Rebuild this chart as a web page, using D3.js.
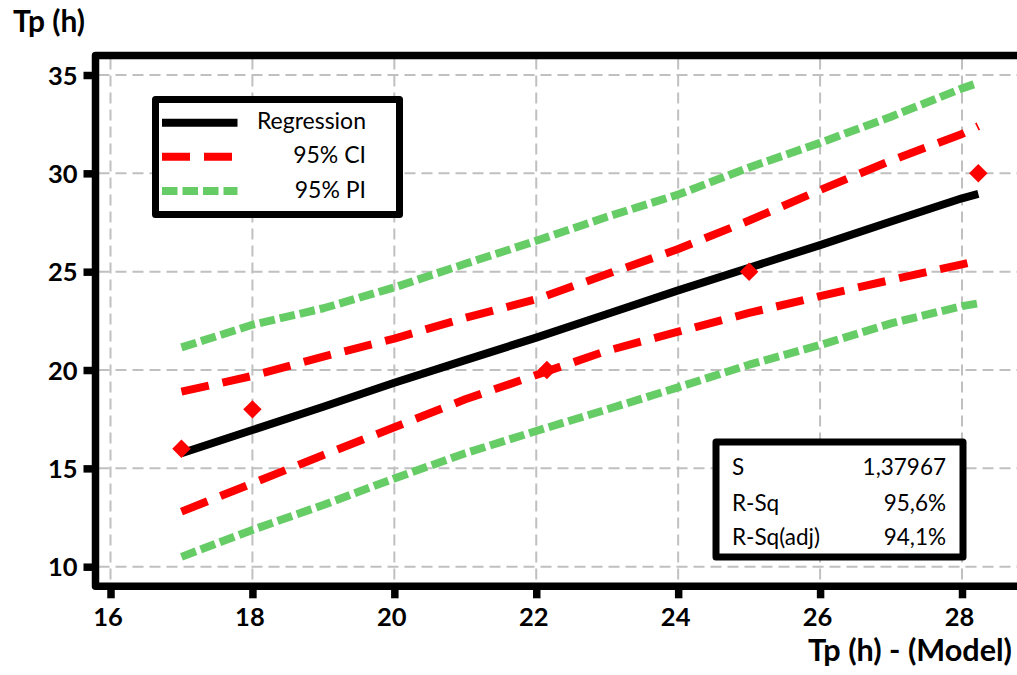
<!DOCTYPE html>
<html>
<head>
<meta charset="utf-8">
<script src="https://cdn.jsdelivr.net/npm/d3@7"></script>
<style>
  html, body { margin: 0; padding: 0; background: #fff; }
  svg { display: block; }
  text { font-family: Lato, "Open Sans", sans-serif; fill: #000; }
</style>
</head>
<body>
<svg id="chart" width="1017" height="675"></svg>
<script>
// ---- data ----
const xTicks = [16, 18, 20, 22, 24, 26, 28];
const yTicks = [10, 15, 20, 25, 30, 35];

const fitX       = [17, 18, 19, 20, 21, 22, 23, 24, 25, 26, 27, 28, 28.23];
const regression = [15.77, 16.95, 18.13, 19.35, 20.5, 21.65, 22.85, 24.05, 25.2, 26.35, 27.55, 28.73, 28.95];
const ciUpper    = [18.9, 19.7, 20.68, 21.6, 22.65, 23.6, 24.88, 26.15, 27.6, 29.15, 30.65, 32.0, 32.4];
const ciLower    = [12.8, 14.24, 15.68, 17.09, 18.51, 19.75, 20.98, 21.95, 22.9, 23.76, 24.58, 25.37, 25.56];
const piUpper    = [21.15, 22.3, 23.14, 24.2, 25.4, 26.57, 27.79, 28.92, 30.3, 31.55, 32.88, 34.32, 34.6];
const piLower    = [10.5, 11.87, 13.14, 14.49, 15.77, 16.9, 18.0, 19.12, 20.27, 21.27, 22.37, 23.25, 23.39];

const obsX = [17, 18, 22.15, 25, 28.23];
const obsY = [16, 18, 20, 25, 30];

const legendLabels = ["Regression", "95% CI", "95% PI"];
const statLabels = ["S", "R-Sq", "R-Sq(adj)"];
const statValues = ["1,37967", "95,6%", "94,1%"];

const xTitle = "Tp (h) - (Model)";
const yTitle = "Tp (h)";

// ---- styles ----
const RED = "#ff0000", GREEN = "#66cc66", GRID = "#c0c0c0";
const styles = [
  { color: "#000", dash: null, width: 8 },
  { color: RED, dash: "28,14", width: 8 },
  { color: GREEN, dash: "15.5,5", width: 8 }
];

const svg = d3.select("#chart");
const x = d3.scaleLinear().domain([16, 28]).range([110.5, 962]);
const y = d3.scaleLinear().domain([10, 35]).range([566.7, 75]);

const frame = { left: 95.5, top: 55.5, bottom: 586.3, right: 1030 };

// grid
const grid = svg.append("g");
grid.selectAll("line.v").data(xTicks).join("line")
  .attr("x1", d => x(d)).attr("x2", d => x(d))
  .attr("y1", frame.top + 3).attr("y2", frame.bottom - 3)
  .attr("stroke", GRID).attr("stroke-width", 2).attr("stroke-dasharray", "11,6");
grid.selectAll("line.h").data(yTicks).join("line")
  .attr("y1", d => y(d)).attr("y2", d => y(d))
  .attr("x1", frame.left + 3).attr("x2", 1017)
  .attr("stroke", GRID).attr("stroke-width", 2).attr("stroke-dasharray", "11,6");

// lines
const line = d3.line().x(d => x(d[0])).y(d => y(d[1]));
function series(vals, st) {
  svg.append("path")
    .datum(fitX.map((v, i) => [v, vals[i]]))
    .attr("d", line).attr("fill", "none")
    .attr("stroke", st.color).attr("stroke-width", st.width)
    .attr("stroke-linejoin", "round")
    .attr("stroke-dasharray", st.dash);
}
series(piUpper, styles[2]);
series(piLower, styles[2]);
series(ciUpper, styles[1]);
series(ciLower, styles[1]);
series(regression, styles[0]);

// observed points (red diamonds)
svg.append("g").selectAll("path").data(obsX.map((v, i) => [v, obsY[i]])).join("path")
  .attr("d", d3.symbol(d3.symbolSquare, 170))
  .attr("transform", d => `translate(${x(d[0])},${y(d[1])}) rotate(45)`)
  .attr("fill", RED);

// legend box
const lg = svg.append("g");
lg.append("rect").attr("x", 155.5).attr("y", 99.5).attr("width", 244).attr("height", 115)
  .attr("fill", "#fff").attr("stroke", "#000").attr("stroke-width", 7).attr("stroke-linejoin", "round");
const legY = [122.7, 156.7, 191];
legendLabels.forEach((lab, i) => {
  lg.append("line").attr("x1", 162).attr("x2", 237.5).attr("y1", legY[i]).attr("y2", legY[i])
    .attr("stroke", styles[i].color).attr("stroke-width", 8)
    .attr("stroke-dasharray", styles[i].dash);
  lg.append("text").attr("x", 366).attr("y", legY[i] + 6.5)
    .attr("text-anchor", "end").attr("font-size", 23).text(lab);
});

// stats box
const sb = svg.append("g");
sb.append("rect").attr("x", 716).attr("y", 442).attr("width", 247).attr("height", 115)
  .attr("fill", "#fff").attr("stroke", "#000").attr("stroke-width", 7).attr("stroke-linejoin", "round");
const statY = [475, 510.5, 545];
statLabels.forEach((lab, i) => {
  sb.append("text").attr("x", 732).attr("y", statY[i]).attr("font-size", 22.5).text(lab);
  sb.append("text").attr("x", 946).attr("y", statY[i]).attr("text-anchor", "end")
    .attr("font-size", 22.5).text(statValues[i]);
});

// frame
svg.append("path")
  .attr("d", `M${frame.right},${frame.top} L${frame.left},${frame.top} L${frame.left},${frame.bottom} L${frame.right},${frame.bottom}`)
  .attr("fill", "none").attr("stroke", "#000").attr("stroke-width", 7.5).attr("stroke-linejoin", "round");

// axes ticks via d3 axes
const yAxis = svg.append("g").attr("transform", `translate(${frame.left},0)`)
  .call(d3.axisLeft(y).tickValues(yTicks).tickSize(12).tickPadding(6));
yAxis.select(".domain").remove();
yAxis.selectAll(".tick line").attr("stroke", "#000").attr("stroke-width", 7.5);
yAxis.selectAll(".tick text").attr("font-size", 25.5).attr("font-weight", "bold")
  .attr("font-family", "Lato, sans-serif").attr("dy", "0.36em").attr("x", -18);

const xAxis = svg.append("g").attr("transform", `translate(0,${frame.bottom})`)
  .call(d3.axisBottom(x).tickValues(xTicks).tickSize(12).tickPadding(6));
xAxis.select(".domain").remove();
xAxis.selectAll(".tick line").attr("stroke", "#000").attr("stroke-width", 7.5);
xAxis.selectAll(".tick text").attr("font-size", 25.5).attr("font-weight", "bold")
  .attr("font-family", "Lato, sans-serif").attr("y", 22).attr("dy", "0.71em").attr("x", -3);

// titles
function fitText(sel, target) {
  const w = sel.node().getComputedTextLength();
  const fs = parseFloat(sel.attr("font-size"));
  sel.attr("font-size", fs * target / w);
}
const yt = svg.append("text").attr("x", 13).attr("y", 32).attr("font-size", 26)
  .attr("font-weight", "bold").text(yTitle);
fitText(yt, 72);
const xt = svg.append("text").attr("x", 1012).attr("y", 661).attr("text-anchor", "end")
  .attr("font-size", 26).attr("font-weight", "bold").text(xTitle);
fitText(xt, 204);
</script>
</body>
</html>
